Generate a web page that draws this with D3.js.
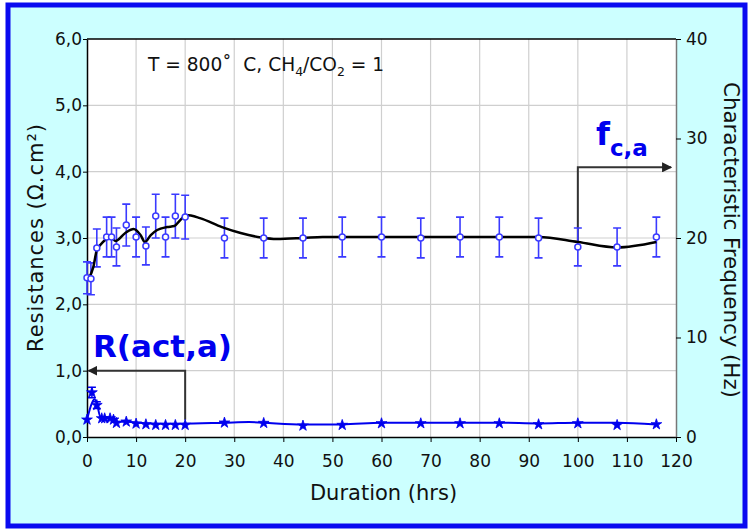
<!DOCTYPE html>
<html>
<head>
<meta charset="utf-8">
<script src="https://cdn.jsdelivr.net/npm/d3@7"></script>
<style>
  html, body { margin: 0; padding: 0; background: #fff; }
  text { font-family: "DejaVu Sans", Verdana, sans-serif; }
</style>
</head>
<body>
<div id="chart"></div>
<script>
// characteristic frequency (right axis, Hz) with error bars
const freqHrs = [0, 0.8, 2, 4, 5, 6, 8, 10, 12, 14, 16, 18, 20, 28, 36, 44, 52, 60, 68, 76, 84, 92, 100, 108, 116];
const freqHz  = [16.0, 15.9, 19.0, 20.1, 20.1, 19.1, 21.3, 20.1, 19.2, 22.2, 20.1, 22.2, 22.1, 20.0, 20.0, 20.0, 20.1, 20.1, 20.0, 20.1, 20.1, 20.0, 19.1, 19.1, 20.1];
const freqErr = [1.6, 1.6, 1.9, 2.0, 2.0, 1.9, 2.1, 2.0, 1.9, 2.2, 2.0, 2.2, 2.2, 2.0, 2.0, 2.0, 2.0, 2.0, 2.0, 2.0, 2.0, 2.0, 1.9, 1.9, 2.0];

// smooth trend drawn through the frequency points
const freqFitHrs = [0.3, 1.3, 2, 2.7, 3.7, 4.8, 5.8, 7.8, 9.5, 10.9, 11.8, 13, 14.3, 16.3, 17.8, 19, 20.2, 23, 27.5, 31.3, 35.5, 38.6, 44, 48, 60, 70, 80, 92, 100, 108, 116];
const freqFitHz  = [15.9, 17.1, 18.8, 19.3, 19.8, 20.1, 19.7, 20.5, 20.9, 20.3, 19.6, 20.3, 20.8, 21.1, 21.2, 21.8, 22.3, 22.0, 21.1, 20.5, 20.05, 19.9, 20.0, 20.1, 20.1, 20.1, 20.1, 20.1, 19.6, 19.05, 19.6];

// activation resistance (left axis, ohm.cm2)
const resHrs = [0, 1, 2, 3, 3.6, 4.7, 5.4, 6, 8, 10, 12, 14, 16, 18, 20, 28, 36, 44, 52, 60, 68, 76, 84, 92, 100, 108, 116];
const resVal = [0.26, 0.67, 0.48, 0.28, 0.28, 0.28, 0.26, 0.21, 0.23, 0.2, 0.19, 0.18, 0.18, 0.18, 0.18, 0.215, 0.21, 0.17, 0.18, 0.205, 0.205, 0.205, 0.205, 0.19, 0.205, 0.18, 0.19];
const resErr = [0, 0.08, 0.05, 0, 0, 0, 0, 0, 0, 0, 0, 0, 0, 0, 0, 0, 0, 0, 0, 0, 0, 0, 0, 0, 0, 0, 0];

const resFitHrs = [0, 1, 1.5, 2, 2.7, 3.5, 5, 6.1, 8, 12, 19, 28, 33, 36, 44, 52, 60, 84, 92, 100, 108, 116];
const resFitVal = [0.26, 0.51, 0.57, 0.51, 0.31, 0.3, 0.28, 0.23, 0.23, 0.205, 0.2, 0.215, 0.225, 0.215, 0.19, 0.19, 0.215, 0.215, 0.205, 0.215, 0.215, 0.19];

const xTicks = d3.range(0, 121, 10);
const yLeftTicks = [0, 1, 2, 3, 4, 5, 6];
const yRightTicks = [0, 10, 20, 30, 40];

// annotation arrows, in data units: [hrs, value]
const resArrow = { from: [20, 0.26], corner: [20, 1.0], to: [0.3, 1.0] };
const freqArrow = { from: [100, 19.6], corner: [100, 27.1], to: [119, 27.1] };

const width = 750, height = 529;
const margin = { top: 39, right: 74, bottom: 92, left: 87 };

const svg = d3.select("#chart").append("svg")
  .attr("width", width)
  .attr("height", height);

const x = d3.scaleLinear().domain([0, 120]).range([margin.left, width - margin.right]);
const yL = d3.scaleLinear().domain([0, 6]).range([height - margin.bottom, margin.top]);
const yR = d3.scaleLinear().domain([0, 40]).range([height - margin.bottom, margin.top]);

const blue = "#0000ee";
const barBlue = "#3a3aff";

// frame
svg.append("rect")
  .attr("x", 8).attr("y", 5)
  .attr("width", width - 13).attr("height", height - 8)
  .attr("fill", "#ccffff")
  .attr("stroke", "#0a0af0")
  .attr("stroke-width", 5);

// plot area
svg.append("rect")
  .attr("x", x(0)).attr("y", yL(6))
  .attr("width", x(120) - x(0)).attr("height", yL(0) - yL(6))
  .attr("fill", "#fff");

// grid
const grid = svg.append("g").attr("stroke", "#cfcfcf").attr("stroke-width", 1.2);
grid.selectAll("line.v")
  .data(xTicks.slice(1, -1))
  .join("line")
    .attr("x1", d => x(d)).attr("x2", d => x(d))
    .attr("y1", yL(6)).attr("y2", yL(0));
grid.selectAll("line.h")
  .data(yLeftTicks.slice(1, -1))
  .join("line")
    .attr("x1", x(0)).attr("x2", x(120))
    .attr("y1", d => yL(d)).attr("y2", d => yL(d));

// top border
svg.append("line")
  .attr("x1", x(0)).attr("x2", x(120))
  .attr("y1", yL(6)).attr("y2", yL(6))
  .attr("stroke", "#000").attr("stroke-width", 1.5);

const tickFont = g => g
  .call(g => g.selectAll("text").attr("font-size", 17).attr("fill", "#111")
    .attr("font-family", "DejaVu Sans, Verdana, sans-serif"))
  .call(g => g.selectAll(".tick line").attr("stroke", "#000"));

svg.append("g")
  .attr("transform", `translate(0,${yL(0)})`)
  .call(d3.axisBottom(x).tickValues(xTicks).tickSize(5).tickPadding(13).tickSizeOuter(0))
  .call(tickFont)
  .call(g => g.select(".domain").attr("stroke", "#000").attr("stroke-width", 1.5));

svg.append("g")
  .attr("transform", `translate(${x(0)},0)`)
  .call(d3.axisLeft(yL).tickValues(yLeftTicks).tickSize(4).tickPadding(1).tickSizeOuter(0)
    .tickFormat(d => d3.format(".1f")(d).replace(".", ",")))
  .call(tickFont)
  .call(g => g.select(".domain").attr("stroke", "#000").attr("stroke-width", 1.5));

svg.append("g")
  .attr("transform", `translate(${x(120)},0)`)
  .call(d3.axisRight(yR).tickValues(yRightTicks).tickSize(5).tickPadding(5).tickSizeOuter(0))
  .call(tickFont)
  .call(g => g.select(".domain").attr("stroke", "#777").attr("stroke-width", 1.5));

// axis titles
svg.append("text")
  .attr("transform", `translate(${x(60) + 2},${height - 29})`)
  .attr("text-anchor", "middle")
  .attr("font-size", 21)
  .attr("fill", "#111")
  .text("Duration (hrs)");

svg.append("text")
  .attr("transform", `translate(43,${(yL(0) + yL(6)) / 2}) rotate(-90)`)
  .attr("text-anchor", "middle")
  .attr("font-size", 21)
  .attr("fill", "#111")
  .attr("textLength", 228)
  .text("Resistances (Ω.cm²)");

svg.append("text")
  .attr("transform", `translate(724,${(yL(0) + yL(6)) / 2 + 2}) rotate(90)`)
  .attr("text-anchor", "middle")
  .attr("font-size", 21.5)
  .attr("fill", "#111")
  .attr("textLength", 316)
  .text("Characteristic Frequency (Hz)");

// condition label
const cond = svg.append("text")
  .attr("x", 148).attr("y", 71)
  .attr("font-size", 18.6)
  .attr("fill", "#111")
  .style("white-space", "pre");
cond.append("tspan").text("T = 800˚  C, CH");
cond.append("tspan").attr("font-size", 12.5).attr("dy", 5).text("4");
cond.append("tspan").attr("dy", -5).text("/CO");
cond.append("tspan").attr("font-size", 12.5).attr("dy", 5).text("2");
cond.append("tspan").attr("dy", -5).text(" = 1");

// arrows
svg.append("defs").selectAll("marker")
  .data(["head"])
  .join("marker")
    .attr("id", d => d)
    .attr("viewBox", "0 0 10 10")
    .attr("refX", 9).attr("refY", 5)
    .attr("markerWidth", 5).attr("markerHeight", 5)
    .attr("orient", "auto")
  .append("path")
    .attr("d", "M0,0 L10,5 L0,10 z")
    .attr("fill", "#222");

const arrowLine = d3.line();
svg.append("path")
  .attr("d", arrowLine([[x(resArrow.from[0]), yL(resArrow.from[1])], [x(resArrow.corner[0]), yL(resArrow.corner[1])], [x(resArrow.to[0]), yL(resArrow.to[1])]]))
  .attr("fill", "none").attr("stroke", "#333").attr("stroke-width", 2)
  .attr("marker-end", "url(#head)");

svg.append("path")
  .attr("d", arrowLine([[x(freqArrow.from[0]), yR(freqArrow.from[1])], [x(freqArrow.corner[0]), yR(freqArrow.corner[1])], [x(freqArrow.to[0]), yR(freqArrow.to[1])]]))
  .attr("fill", "none").attr("stroke", "#333").attr("stroke-width", 2)
  .attr("marker-end", "url(#head)");

svg.append("text")
  .attr("x", 93).attr("y", 357)
  .attr("font-size", 31).attr("font-weight", "bold")
  .attr("fill", blue)
  .text("R(act,a)");

const fca = svg.append("text")
  .attr("x", 596).attr("y", 145)
  .attr("font-size", 32).attr("font-weight", "bold")
  .attr("fill", blue);
fca.append("tspan").text("f");
fca.append("tspan").attr("font-size", 23).attr("dy", 11).text("c,a");

// frequency error bars
const freq = freqHrs.map((h, i) => ({ h, v: freqHz[i], e: freqErr[i] }));
const bars = svg.append("g").attr("stroke", barBlue).attr("stroke-width", 1.6);
bars.selectAll("line.stem")
  .data(freq)
  .join("line")
    .attr("x1", d => x(d.h)).attr("x2", d => x(d.h))
    .attr("y1", d => yR(d.v - d.e)).attr("y2", d => yR(d.v + d.e));
bars.selectAll("path.cap")
  .data(freq)
  .join("path")
    .attr("d", d => `M${x(d.h) - 4},${yR(d.v + d.e)}h8M${x(d.h) - 4},${yR(d.v - d.e)}h8`);

// frequency trend
svg.append("path")
  .datum(freqFitHrs.map((h, i) => [h, freqFitHz[i]]))
  .attr("fill", "none")
  .attr("stroke", "#000")
  .attr("stroke-width", 2.5)
  .attr("d", d3.line().x(d => x(d[0])).y(d => yR(d[1])).curve(d3.curveMonotoneX));

svg.append("g")
  .selectAll("circle")
  .data(freq)
  .join("circle")
    .attr("cx", d => x(d.h))
    .attr("cy", d => yR(d.v))
    .attr("r", 3)
    .attr("fill", "#fff")
    .attr("stroke", barBlue)
    .attr("stroke-width", 1.5);

// resistance
const res = resHrs.map((h, i) => ({ h, v: resVal[i], e: resErr[i] }));
svg.append("g").attr("stroke", blue).attr("stroke-width", 1.5)
  .selectAll("path")
  .data(res.filter(d => d.e > 0))
  .join("path")
    .attr("d", d => `M${x(d.h)},${yL(d.v - d.e)}V${yL(d.v + d.e)}M${x(d.h) - 4},${yL(d.v + d.e)}h8M${x(d.h) - 4},${yL(d.v - d.e)}h8`);

svg.append("path")
  .datum(resFitHrs.map((h, i) => [h, resFitVal[i]]))
  .attr("fill", "none")
  .attr("stroke", blue)
  .attr("stroke-width", 2)
  .attr("d", d3.line().x(d => x(d[0])).y(d => yL(d[1])).curve(d3.curveMonotoneX));

svg.append("g")
  .selectAll("path")
  .data(res)
  .join("path")
    .attr("transform", d => `translate(${x(d.h)},${yL(d.v)})`)
    .attr("d", d3.symbol(d3.symbolStar, 36))
    .attr("fill", blue)
    .attr("stroke", blue)
    .attr("stroke-width", 0.8);
</script>
</body>
</html>
